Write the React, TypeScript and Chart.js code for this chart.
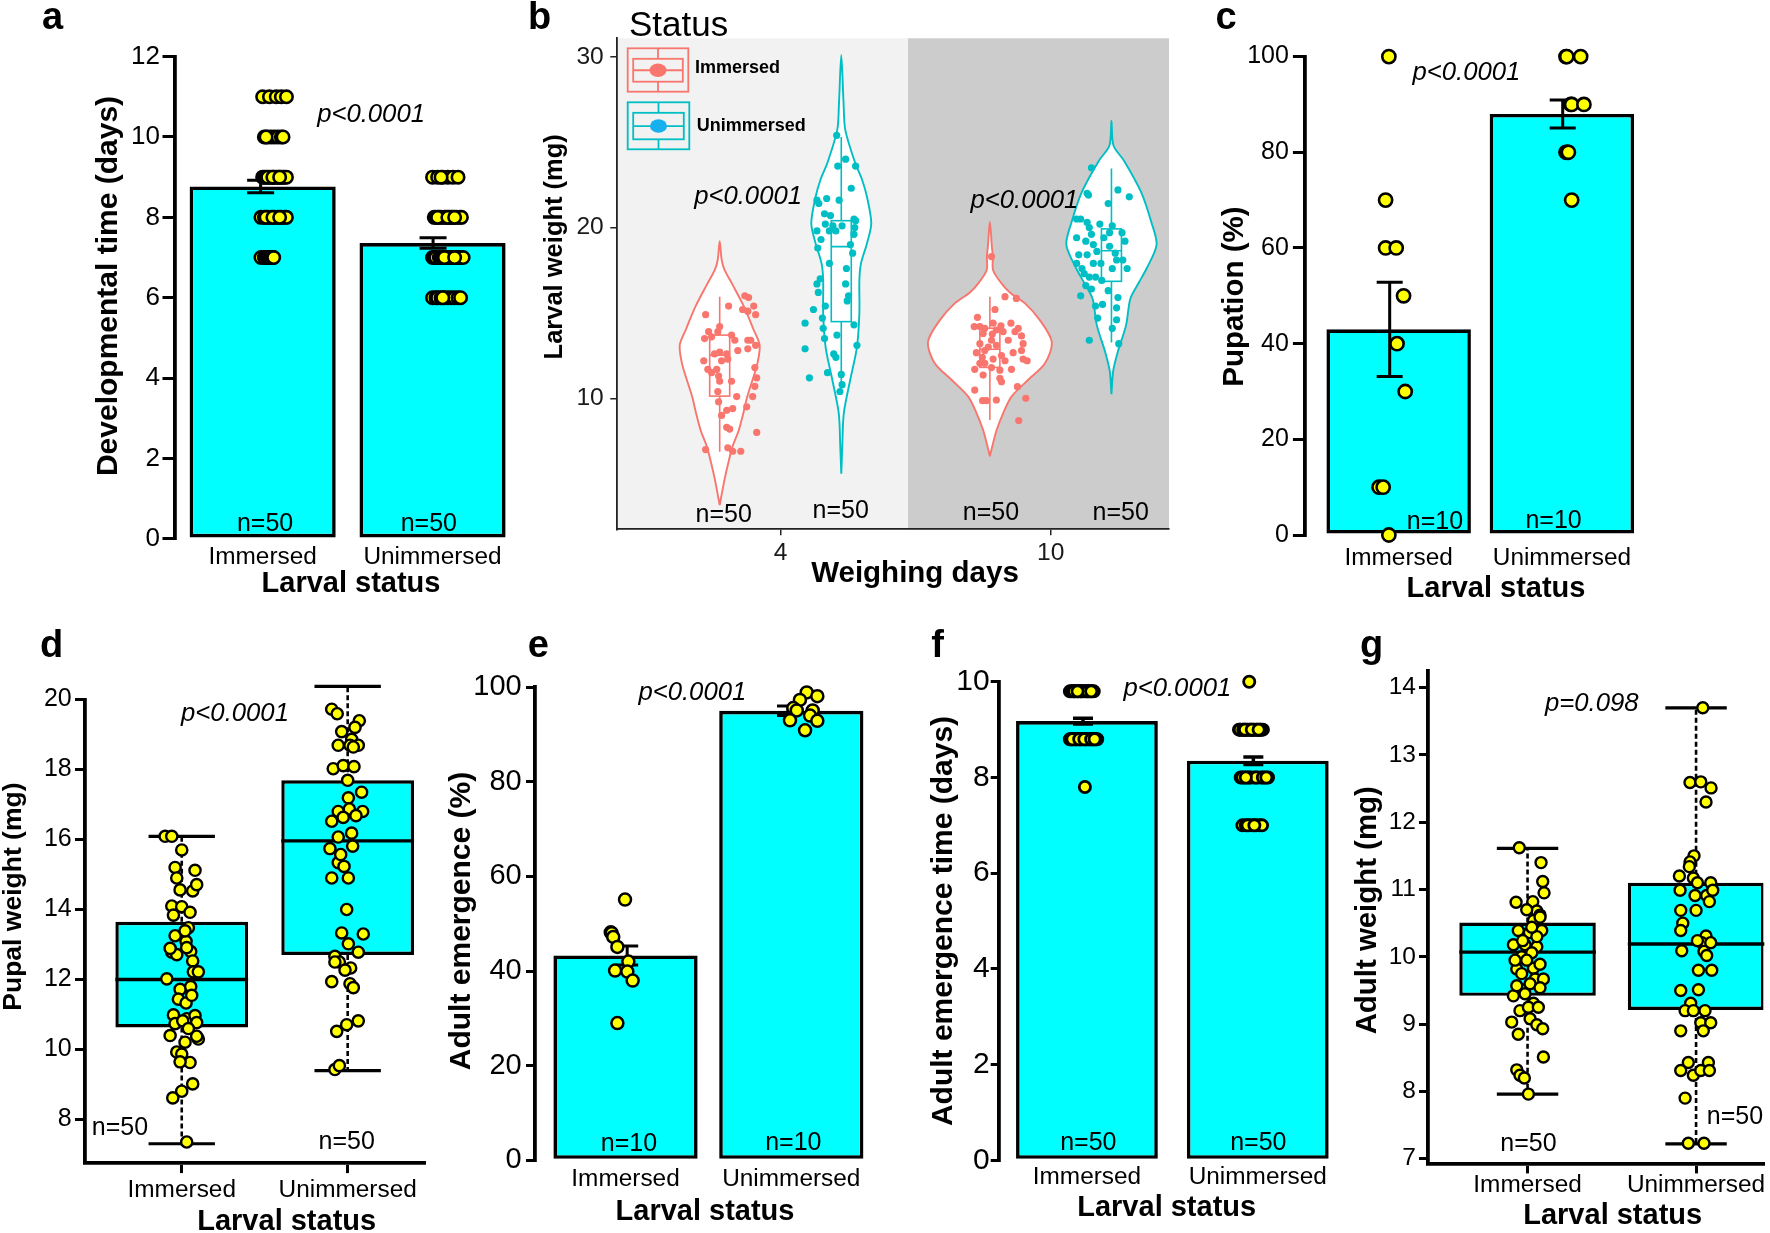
import React, { useEffect, useRef } from 'react';
import { Chart, registerables } from 'chart.js';

Chart.register(...registerables);

const PAGE_W = 1770;
const PAGE_H = 1233;
const Y_W = 80;
const X_H = 40;
const FF = '"Liberation Sans", Arial, Helvetica, sans-serif';
const fnt = (size: number, style = '') => `${style} ${size}px ${FF}`.trim();

const CYAN = '#00FFFF';
const YELLOW = '#FFFF00';
const BLACK = '#000000';
const SALMON = '#F8766D';
const TEAL = '#00BFC4';
const BLUE_DOT = '#17B0EE';

// ---------------- categories ----------------
const larvalStatus = ['Immersed', 'Unimmersed'];
const weighingDays = ['4', '10'];
const groupX = [0, 1];

// ---------------- a: developmental time ----------------
const devTicks = [0, 2, 4, 6, 8, 10, 12];
const devMean = [8.77, 7.36];
const devSem = [0.155, 0.13];
const devErrShift = [-0.012, 0.003];
const devImmersed = [11, 11, 11, 11, 11, 10, 10, 10, 10, 10, 10, 10, 10, 9, 9, 9, 9, 9, 9, 9, 9, 9, 9, 9, 9, 9, 9, 9, 9, 9, 8, 8, 8, 8, 8, 8, 8, 8, 8, 8, 8, 8, 7, 7, 7, 7, 7, 7, 7, 7];
const devImmersedJit = [0, 0.04, 0.08, 0.11, 0.14, 0.01, 0.03, 0.05, 0.07, 0.09, 0.11, 0.12, 0.02, 0, 0.01, 0.02, 0.04, 0.05, 0.06, 0.07, 0.08, 0.09, 0.1, 0.11, 0.12, 0.13, 0.14, 0.03, 0.06, 0.1, -0.01, 0.01, 0.03, 0.05, 0.07, 0.09, 0.11, 0.13, 0.14, 0.02, 0.06, 0.1, -0.01, 0.01, 0.02, 0.03, 0.04, 0.05, 0.06, 0.065];
const devUnimmersed = [9, 9, 9, 9, 9, 9, 9, 8, 8, 8, 8, 8, 8, 8, 8, 8, 8, 8, 8, 8, 8, 8, 7, 7, 7, 7, 7, 7, 7, 7, 7, 7, 7, 7, 7, 7, 7, 7, 7, 6, 6, 6, 6, 6, 6, 6, 6, 6, 6, 6];
const devUnimmersedJit = [0, 0.03, 0.06, 0.09, 0.12, 0.15, 0.05, 0.01, 0.02, 0.04, 0.05, 0.07, 0.08, 0.1, 0.11, 0.12, 0.14, 0.16, 0.17, 0.03, 0.09, 0.13, 0, 0.01, 0.02, 0.04, 0.05, 0.06, 0.08, 0.09, 0.1, 0.11, 0.12, 0.14, 0.15, 0.16, 0.18, 0.07, 0.13, 0, 0.02, 0.03, 0.05, 0.07, 0.09, 0.11, 0.13, 0.15, 0.165, 0.06];

// ---------------- b: larval weight (violins) ----------------
const larvTicks = [10, 20, 30];
const vioImm4Y = [3.75, 5.3, 6.2, 7.2, 8.1, 9.1, 10.1, 11.1, 12.0, 13.1, 14.0, 15.4, 16.7, 17.5, 18.1, 19.2];
const vioImm4W = [0, 0.0185, 0.0315, 0.048, 0.07, 0.087, 0.102, 0.122, 0.139, 0.148, 0.126, 0.089, 0.046, 0.0185, 0.0074, 0];
const vioUnimm4Y = [5.58, 7.17, 9.12, 11.07, 13.0, 14.98, 16.93, 17.9, 19.07, 20.25, 21.8, 22.8, 23.76, 25.7, 27.27, 30.1];
const vioUnimm4W = [0, 0.0037, 0.0093, 0.033, 0.058, 0.067, 0.067, 0.073, 0.095, 0.111, 0.095, 0.077, 0.052, 0.015, 0.0085, 0];
const vioImm10Y = [6.6, 7.17, 8.14, 9.12, 10.1, 11.07, 12.05, 13.3, 14.58, 15.56, 16.2, 16.73, 17.5, 18.3, 18.88, 20.34];
const vioImm10W = [0, 0.0085, 0.025, 0.049, 0.08, 0.141, 0.204, 0.229, 0.185, 0.13, 0.074, 0.043, 0.012, 0.011, 0.0074, 0];
const vioUnimm10Y = [10.24, 11.59, 12.7, 14.27, 15.84, 16.74, 17.6, 18.98, 20.3, 22.1, 23.9, 24.8, 26.26];
const vioUnimm10W = [0, 0.0063, 0.023, 0.054, 0.07, 0.1, 0.13, 0.167, 0.148, 0.109, 0.047, 0.0074, 0];
// lo, q1, median, q3, hi
const boxImm4 = [6.87, 10.13, 12.53, 13.7, 15.95];
const boxUnimm4 = [10.49, 14.49, 18.88, 20.4, 25.3];
const boxImm10 = [8.73, 11.81, 12.87, 14.1, 15.95];
const boxUnimm10 = [13.27, 16.85, 18.64, 19.92, 23.46];
const larvImm4 = [16.0, 15.9, 15.4, 15.4, 15.2, 15.1, 14.9, 14.9, 14.2, 13.9, 13.9, 13.7, 13.5, 13.4, 13.4, 13.4, 13.1, 12.8, 12.7, 12.6, 12.6, 12.2, 12.2, 12.3, 11.7, 11.7, 11.8, 11.3, 11.0, 11.0, 11.2, 10.1, 10.4, 10.1, 9.5, 9.3, 9.0, 9.4, 8.3, 8.2, 8.0, 7.0, 7.1, 6.9, 6.9, 11.5, 10.7, 12.9, 13.6, 9.8];
const larvImm4Jit = [0.093, 0.107, 0.033, 0.126, 0.085, 0.104, -0.052, 0.133, 0, -0.041, -0.007, 0.044, -0.056, 0.056, 0.115, 0.104, 0.133, 0.067, 0, 0.026, -0.019, -0.059, 0.007, 0.03, -0.044, -0.011, 0.13, -0.004, 0, 0.044, 0.137, 0.063, -0.007, 0.122, 0.1, 0.026, 0.007, 0.048, 0.026, 0.037, 0.137, -0.052, 0.03, 0.048, 0.078, -0.03, 0.13, 0.104, -0.03, -0.004];
const larvUnimm4 = [25.4, 23.6, 24.0, 23.6, 22.3, 21.6, 21.7, 21.6, 21.4, 20.8, 20.7, 20.2, 20.1, 20.1, 20.5, 20.4, 19.8, 19.8, 19.6, 18.8, 19.0, 18.5, 17.0, 16.7, 16.7, 16.2, 16.0, 15.7, 15.2, 14.3, 14.4, 14.7, 14.1, 13.5, 13.7, 13.1, 12.9, 12.6, 12.4, 11.4, 10.8, 10.4, 11.2, 19.3, 20.0, 19.8, 11.5, 17.9, 17.6, 15.4];
const larvUnimm4Jit = [-0.017, -0.013, 0.016, 0.053, 0.037, -0.09, -0.054, -0.008, -0.083, -0.062, -0.04, -0.059, -0.031, 0.003, 0.047, 0.053, -0.09, -0.044, 0.047, -0.087, 0.034, 0.042, -0.078, -0.09, 0.016, -0.085, 0.027, 0.022, -0.103, 0.047, -0.134, -0.07, -0.067, -0.062, -0.016, 0.058, -0.134, -0.028, -0.02, 0, 0.003, -0.005, -0.118, -0.075, 0.05, -0.02, -0.051, -0.044, 0.019, -0.059];
const larvImm10 = [18.3, 15.95, 15.85, 15.2, 14.74, 14.4, 14.4, 14.2, 14.2, 14.1, 14.25, 14.1, 13.8, 13.76, 13.9, 13.9, 13.65, 13.2, 13.0, 13.1, 13.2, 12.67, 12.4, 12.3, 12.5, 12.67, 12.3, 12.2, 11.7, 11.36, 11.8, 11.65, 12.05, 11.7, 11.17, 10.48, 9.86, 9.86, 9.9, 10.68, 10.0, 8.7, 12.2, 14.0, 12.05, 12.8, 12.8, 13.4, 10.97, 13.4];
const larvImm10Jit = [0.006, 0.056, 0.098, 0.019, -0.046, 0.012, 0.078, -0.058, -0.037, -0.019, 0.041, 0.105, -0.025, 0.009, 0.049, 0.093, 0.117, -0.037, -0.006, 0.024, 0.123, -0.05, -0.028, 0.012, 0.043, 0.086, 0.123, 0.138, -0.056, -0.025, 0.006, 0.037, -0.019, 0.08, 0.037, -0.056, -0.027, -0.013, 0.024, 0.102, 0.133, 0.107, 0.056, 0.024, -0.037, 0.117, -0.019, 0.068, 0.043, 0.006];
const larvUnimm10 = [23.5, 22.0, 21.9, 22.2, 21.8, 21.4, 20.5, 20.5, 20.3, 20.2, 19.6, 20.1, 19.7, 19.4, 19.2, 19.0, 18.4, 18.4, 18.6, 18.9, 18.5, 19.7, 19.2, 18.1, 18.1, 17.9, 17.9, 17.3, 17.1, 16.9, 16.6, 16.4, 16.0, 15.4, 15.5, 15.9, 15.3, 14.7, 14.6, 13.4, 13.2, 14.1, 17.6, 16.3, 19.4, 17.1, 17.6, 17.9, 20.0, 17.6];
const larvUnimm10Jit = [-0.074, -0.09, -0.085, 0.024, 0.066, -0.012, -0.129, -0.114, -0.09, -0.043, -0.074, 0.003, -0.007, -0.129, -0.095, -0.067, -0.121, -0.09, -0.054, -0.007, 0.014, 0.039, 0.05, 0.019, 0.042, -0.039, -0.067, -0.101, -0.082, -0.036, -0.095, -0.074, -0.114, -0.059, -0.033, 0.024, 0.019, -0.051, 0.019, -0.082, 0.027, 0.003, -0.109, -0.012, -0.028, -0.059, 0.058, -0.129, -0.082, 0.003];

// ---------------- c: pupation ----------------
const pupTicks = [0, 20, 40, 60, 80, 100];
const pupMean = [43, 88];
const pupSem = [9.85, 2.95];
const pupErrShift = [-0.055, 0.005];
const pupImmersed = [100, 70, 60, 60, 50, 40, 30, 10, 10, 0];
const pupImmersedJit = [-0.06, -0.08, -0.08, -0.015, 0.03, -0.01, 0.04, -0.12, -0.095, -0.06];
const pupUnimmersed = [100, 100, 100, 90, 90, 90, 80, 80, 80, 70];
const pupUnimmersedJit = [0.025, 0.03, 0.115, 0.055, 0.06, 0.135, 0.025, 0.035, 0.04, 0.06];

// ---------------- d: pupal weight (box) ----------------
const pupalTicks = [8, 10, 12, 14, 16, 18, 20];
const pupalBox = [
  [7.31, 10.63, 12.0, 13.65, 16.09],
  [9.4, 12.7, 15.96, 17.69, 20.37],
];
const pupalImmersed = [16.09, 16.09, 15.7, 15.2, 15.12, 14.9, 14.53, 14.71, 14.1, 14.08, 13.92, 13.84, 13.48, 13.25, 13.09, 12.78, 12.71, 12.8, 12.91, 12.53, 12.22, 12.02, 11.72, 11.8, 11.44, 11.33, 10.99, 10.88, 10.97, 10.74, 10.82, 10.77, 10.4, 10.21, 10.3, 9.93, 9.87, 9.63, 9.65, 9.02, 8.81, 8.62, 7.36, 10.38, 11.55, 13.39, 12.89, 12.22, 10.6, 14.56];
const pupalImmersedJit = [-0.1, -0.06, 0, -0.04, 0.08, -0.03, 0.066, 0.09, -0.06, 0, 0.05, -0.05, 0.04, -0.04, 0.026, -0.06, -0.03, 0.054, 0.03, 0.066, 0.07, -0.09, -0.01, 0.054, -0.02, 0.026, -0.05, 0.03, 0.08, -0.04, 0.006, 0.09, -0.07, 0.02, 0.1, -0.03, 0, 0.05, -0.01, 0.066, 0, -0.054, 0.03, 0.09, 0.06, 0.02, -0.07, 0.1, 0.04, -0.01];
const pupalUnimmersed = [20.39, 19.72, 19.59, 19.39, 19.2, 18.86, 18.69, 18.69, 18.69, 18.02, 18.11, 18.08, 17.69, 17.35, 17.19, 16.8, 16.87, 16.8, 16.52, 16.63, 16.18, 16.07, 15.74, 15.81, 15.34, 15.23, 14.9, 14.9, 14.0, 13.33, 13.3, 13.02, 12.78, 12.66, 12.5, 12.33, 11.94, 11.88, 11.77, 10.82, 10.52, 10.71, 9.43, 9.54, 18.64, 19.08, 12.5, 12.27, 15.57, 16.68];
const pupalUnimmersedJit = [-0.05, -0.096, -0.063, 0.07, 0.044, 0.024, -0.057, 0.014, 0.064, -0.087, -0.027, 0.038, 0, 0.084, 0.004, -0.057, 0.01, 0.09, -0.096, -0.027, 0.024, -0.057, -0.107, 0.03, -0.057, -0.022, -0.096, 0.004, -0.006, -0.036, 0.094, 0.004, 0.064, -0.077, -0.05, 0.018, -0.096, 0.014, 0.034, 0.064, -0.066, -0.006, -0.077, -0.05, 0.034, -0.036, -0.077, -0.016, -0.042, 0.05];

// ---------------- e: adult emergence ----------------
const emTicks = [0, 20, 40, 60, 80, 100];
const emMean = [43.3, 95.0];
const emSem = [2.0, 1.0];
const emErrShift = [0.01, -0.02];
const emImmersed = [55.1, 48.2, 48.0, 47.2, 45.1, 42.0, 40.1, 39.9, 38.0, 29.0];
const emImmersedJit = [-0.003, -0.089, -0.083, -0.074, -0.049, 0.017, -0.063, 0.011, 0.043, -0.049];
const emUnimmersed = [98.9, 98.1, 97.3, 95.6, 95.1, 95.1, 94.0, 93.0, 92.9, 90.9];
const emUnimmersedJit = [0.093, 0.157, 0.052, 0.012, 0.033, 0.129, 0.113, -0.008, 0.157, 0.083];

// ---------------- f: adult emergence time ----------------
const atTicks = [0, 2, 4, 6, 8, 10];
const atMean = [9.18, 8.35];
const atSem = [0.06, 0.08];
const atErrShift = [-0.023, -0.026];
const atImmersed = [9.8, 9.8, 9.8, 9.8, 9.8, 9.8, 9.8, 9.8, 9.8, 9.8, 9.8, 9.8, 9.8, 9.8, 9.8, 9.8, 9.8, 9.8, 9.8, 9.8, 8.8, 8.8, 8.8, 8.8, 8.8, 8.8, 8.8, 8.8, 8.8, 8.8, 8.8, 8.8, 8.8, 8.8, 8.8, 8.8, 8.8, 8.8, 8.8, 8.8, 8.8, 8.8, 8.8, 8.8, 8.8, 8.8, 8.8, 8.8, 8.8, 7.8];
const atImmersedJit = [-0.1, -0.09, -0.08, -0.07, -0.06, -0.05, -0.04, -0.03, -0.02, -0.01, 0, 0.01, 0.02, 0.03, 0.04, -0.075, -0.035, 0.005, 0.025, -0.055, -0.1, -0.09, -0.08, -0.07, -0.06, -0.05, -0.04, -0.03, -0.02, -0.01, 0, 0.01, 0.02, 0.03, 0.04, 0.05, 0.06, -0.095, -0.065, -0.035, -0.005, 0.015, 0.035, 0.055, -0.085, -0.045, -0.015, 0.025, 0.045, -0.012];
const atUnimmersed = [10, 9, 9, 9, 9, 9, 9, 9, 9, 9, 9, 9, 9, 9, 9, 9, 9, 9, 9, 9, 9, 9, 9, 9, 9, 9, 8, 8, 8, 8, 8, 8, 8, 8, 8, 8, 8, 8, 8, 8, 8, 7, 7, 7, 7, 7, 7, 7, 7, 7];
const atUnimmersedJit = [-0.05, -0.11, -0.1, -0.09, -0.08, -0.07, -0.06, -0.05, -0.04, -0.03, -0.02, -0.01, 0, 0.01, 0.02, 0.03, -0.105, -0.085, -0.065, -0.045, -0.025, -0.005, 0.015, -0.075, -0.035, 0.005, -0.1, -0.08, -0.06, -0.04, -0.02, 0, 0.02, 0.04, 0.06, -0.09, -0.05, -0.01, 0.03, -0.07, 0.05, -0.09, -0.07, -0.05, -0.03, -0.01, 0.01, 0.025, -0.06, -0.02];

// ---------------- g: adult weight (box) ----------------
const awTicks = [7, 8, 9, 10, 11, 12, 13, 14];
const awBox = [
  [7.96, 9.42, 10.07, 10.51, 11.61],
  [7.22, 9.21, 10.19, 11.1, 13.7],
];
const awImmersed = [11.62, 11.4, 11.12, 10.95, 10.81, 10.82, 10.68, 10.62, 10.54, 10.39, 10.36, 10.39, 10.18, 10.18, 10.15, 10.0, 10.06, 9.82, 9.83, 9.67, 9.67, 9.51, 9.42, 9.45, 9.31, 9.03, 9.08, 8.99, 8.93, 8.51, 8.32, 8.24, 8.2, 7.96, 9.89, 9.95, 10.24, 10.3, 9.95, 9.6, 10.59, 9.2, 9.25, 9.25, 10.44, 8.85, 10.7, 9.75, 9.54, 9.57];
const awImmersedJit = [-0.049, 0.08, 0.09, 0.098, -0.068, 0.031, 0.055, 0.074, 0.035, -0.055, 0.011, 0.084, -0.084, -0.015, 0.055, -0.035, 0.025, -0.064, 0.035, 0.045, 0.094, -0.035, -0.084, -0.015, 0.035, -0.094, 0.015, 0.055, 0.09, 0.094, -0.064, -0.045, -0.019, 0.005, 0.074, -0.005, -0.029, 0.055, -0.074, 0.015, 0.074, -0.045, 0.005, 0.064, 0.025, -0.055, -0.005, -0.035, 0.074, -0.064];
const awUnimmersed = [14.39, 13.7, 12.59, 12.6, 12.51, 12.3, 11.5, 11.41, 11.2, 11.17, 11.1, 11.1, 10.99, 10.91, 10.91, 10.99, 10.69, 10.69, 10.82, 10.5, 10.39, 10.31, 10.21, 10.21, 10.09, 10.08, 10.02, 9.8, 9.8, 9.5, 9.51, 9.31, 9.2, 9.2, 9.2, 9.02, 9.02, 8.9, 8.9, 8.43, 8.43, 8.31, 8.24, 8.31, 8.31, 7.9, 7.23, 7.23, 11.34, 10.24];
const awUnimmersedJit = [0.008, 0.04, -0.036, 0.028, 0.089, 0.059, -0.012, -0.036, -0.099, -0.016, 0.008, 0.087, -0.095, -0.006, 0.063, 0.099, -0.091, 0, 0.079, -0.079, -0.091, 0.059, 0.034, 0.087, -0.085, 0.047, 0.063, 0.014, 0.093, -0.091, 0.014, -0.032, -0.065, -0.016, 0.053, 0.028, 0.087, 0.043, -0.091, -0.046, 0.073, -0.091, -0.016, 0.028, 0.079, -0.065, -0.046, 0.047, -0.04, 0.008];

// ---------------- helpers ----------------
const baseOptions = {
  responsive: false,
  maintainAspectRatio: false,
  animation: false,
  devicePixelRatio: 1,
  events: [],
};
const noLegend = { legend: { display: false }, tooltip: { enabled: false } };

function layoutFor(fr: any) {
  return {
    autoPadding: false,
    padding: { left: fr.l - Y_W, top: fr.t, right: PAGE_W - fr.r, bottom: PAGE_H - fr.b - X_H },
  };
}

function axisX(o: any) {
  return {
    type: 'linear',
    position: 'bottom',
    min: o.min,
    max: o.max,
    offset: false,
    beginAtZero: false,
    afterBuildTicks: (sc: any) => {
      sc.ticks = o.ticks.map((v: number) => ({ value: v }));
    },
    afterFit: (sc: any) => {
      sc.height = X_H;
    },
    ticks: {
      autoSkip: false,
      maxRotation: 0,
      minRotation: 0,
      padding: o.pad,
      color: o.color || BLACK,
      font: { family: FF, size: o.font },
      callback: (v: any, i: number) => (o.labels ? o.labels[i] : String(v)),
    },
    grid: {
      display: o.tickLen > 0,
      offset: false,
      drawOnChartArea: false,
      drawTicks: true,
      tickLength: o.tickLen,
      lineWidth: o.tickW || 1,
      color: o.lineColor || BLACK,
    },
    border: { display: (o.borderW || 0) > 0, width: o.borderW || 1, color: o.lineColor || BLACK },
  };
}

function axisY(o: any) {
  return {
    type: 'linear',
    position: 'left',
    min: o.min,
    max: o.max,
    offset: false,
    beginAtZero: false,
    afterBuildTicks: (sc: any) => {
      sc.ticks = o.ticks.map((v: number) => ({ value: v }));
    },
    afterFit: (sc: any) => {
      sc.width = Y_W;
    },
    ticks: {
      autoSkip: false,
      padding: o.pad,
      color: o.color || BLACK,
      font: { family: FF, size: o.font },
      callback: (v: any) => String(v),
    },
    grid: {
      display: true,
      offset: false,
      drawOnChartArea: false,
      drawTicks: true,
      tickLength: o.tickLen,
      lineWidth: o.tickW,
      color: o.lineColor || BLACK,
    },
    border: { display: true, width: o.borderW, color: o.lineColor || BLACK },
  };
}

function textPlugin(items: any[]) {
  return {
    id: 'panelText',
    afterDraw(chart: any) {
      const { ctx } = chart;
      const sx = chart.scales.x;
      const sy = chart.scales.y;
      items.forEach((it) => {
        const px = it.data ? sx.getPixelForValue(it.x) : it.x;
        const py = it.data ? sy.getPixelForValue(it.y) : it.y;
        ctx.save();
        ctx.translate(px, py);
        if (it.rot) ctx.rotate((it.rot * Math.PI) / 180);
        ctx.font = it.f;
        ctx.fillStyle = it.c || BLACK;
        ctx.textAlign = it.align || 'center';
        ctx.textBaseline = it.base || 'middle';
        ctx.fillText(it.t, 0, 0);
        ctx.restore();
      });
    },
  };
}

function errorBarPlugin(means: number[], sems: number[], shift: number[], capW: number, lw: number) {
  return {
    id: 'errorBars',
    afterDatasetDraw(chart: any, args: any) {
      if (args.index !== 0) return;
      const { ctx } = chart;
      const sx = chart.scales.x;
      const sy = chart.scales.y;
      ctx.save();
      ctx.strokeStyle = BLACK;
      ctx.lineWidth = lw;
      means.forEach((m, i) => {
        const cx = sx.getPixelForValue(groupX[i] + shift[i]);
        const yt = sy.getPixelForValue(m + sems[i]);
        const yb = sy.getPixelForValue(m - sems[i]);
        ctx.beginPath();
        ctx.moveTo(cx, yt);
        ctx.lineTo(cx, yb);
        ctx.moveTo(cx - capW / 2, yt);
        ctx.lineTo(cx + capW / 2, yt);
        ctx.moveTo(cx - capW / 2, yb);
        ctx.lineTo(cx + capW / 2, yb);
        ctx.stroke();
      });
      ctx.restore();
    },
  };
}

function boxWhiskerPlugin(stats: number[][], o: any) {
  return {
    id: 'boxWhisker',
    afterDatasetDraw(chart: any, args: any) {
      if (args.index !== 0) return;
      const { ctx } = chart;
      const sx = chart.scales.x;
      const sy = chart.scales.y;
      args.meta.data.forEach((el: any, i: number) => {
        const [lo, q1, med, q3, hi] = stats[i];
        const cx = sx.getPixelForValue(groupX[i]);
        const half = el.width / 2;
        const cap = half * o.capFrac;
        ctx.save();
        ctx.strokeStyle = BLACK;
        ctx.lineWidth = o.medW;
        ctx.beginPath();
        ctx.moveTo(cx - half, sy.getPixelForValue(med));
        ctx.lineTo(cx + half, sy.getPixelForValue(med));
        ctx.stroke();
        ctx.lineWidth = o.whW;
        ctx.setLineDash(o.dash);
        ctx.beginPath();
        ctx.moveTo(cx, sy.getPixelForValue(q3));
        ctx.lineTo(cx, sy.getPixelForValue(hi));
        ctx.moveTo(cx, sy.getPixelForValue(q1));
        ctx.lineTo(cx, sy.getPixelForValue(lo));
        ctx.stroke();
        ctx.setLineDash([]);
        ctx.lineWidth = o.capW;
        ctx.beginPath();
        ctx.moveTo(cx - cap, sy.getPixelForValue(hi));
        ctx.lineTo(cx + cap, sy.getPixelForValue(hi));
        ctx.moveTo(cx - cap, sy.getPixelForValue(lo));
        ctx.lineTo(cx + cap, sy.getPixelForValue(lo));
        ctx.stroke();
        ctx.restore();
      });
    },
  };
}

function pointSets(points: number[][], jitter: number[][], centers: number[], style: any) {
  return points.map((vals, g) => ({
    type: 'scatter',
    data: vals.map((v, i) => ({ x: centers[g] + jitter[g][i], y: v })),
    pointRadius: style.r,
    pointBorderWidth: style.bw,
    pointBackgroundColor: style.fill || YELLOW,
    pointBorderColor: style.stroke || BLACK,
    clip: false,
    order: 0,
  }));
}

function barPanel(p: any) {
  const datasets: any[] = [
    {
      type: 'bar',
      data: p.means.map((m: number, i: number) => ({ x: groupX[i], y: m })),
      backgroundColor: CYAN,
      borderColor: BLACK,
      borderWidth: p.barBorder,
      borderSkipped: false,
      categoryPercentage: 1,
      barPercentage: p.barPct,
      order: 1,
    },
    ...pointSets(p.points, p.jitter, groupX, { r: p.r, bw: p.bw }),
  ];
  return {
    type: 'scatter',
    data: { datasets },
    options: {
      ...baseOptions,
      layout: layoutFor(p.frame),
      scales: { x: axisX(p.x), y: axisY(p.y) },
      plugins: noLegend,
    },
    plugins: [errorBarPlugin(p.means, p.sems, p.errShift, p.capW, p.errLW), textPlugin(p.texts)],
  };
}

function boxPanel(p: any) {
  const datasets: any[] = [
    {
      type: 'bar',
      data: p.stats.map((s: number[], i: number) => ({ x: groupX[i], y: [s[1], s[3]] })),
      backgroundColor: CYAN,
      borderColor: BLACK,
      borderWidth: p.boxBorder,
      borderSkipped: false,
      categoryPercentage: 1,
      barPercentage: p.barPct,
      order: 1,
    },
    ...pointSets(p.points, p.jitter, groupX, { r: p.r, bw: p.bw }),
  ];
  return {
    type: 'scatter',
    data: { datasets },
    options: {
      ...baseOptions,
      layout: layoutFor(p.frame),
      scales: { x: axisX(p.x), y: axisY(p.y) },
      plugins: noLegend,
    },
    plugins: [boxWhiskerPlugin(p.stats, p.whisker), textPlugin(p.texts)],
  };
}

// ---------------- panel configs ----------------
const yLab = (t: string, x: number, y: number, s: number) => ({ t, x, y, f: fnt(s, 'bold'), rot: -90 });
const xLab = (t: string, x: number, y: number) => ({ t, x, y, f: fnt(29, 'bold') });
const letter = (t: string, x: number, y: number) => ({ t, x, y, f: fnt(38, 'bold'), base: 'alphabetic' });
const pLab = (t: string, x: number, y: number) => ({ t, x, y, f: fnt(25.7, 'italic'), data: true });
const nLab = (t: string, x: number, y: number) => ({ t, x, y, f: fnt(25), data: true });

const configA = () =>
  barPanel({
    frame: { l: 175, t: 56.6, r: 517.5, b: 538.9 },
    means: devMean,
    sems: devSem,
    errShift: devErrShift,
    capW: 27,
    errLW: 3,
    barPct: 0.86,
    barBorder: 3.6,
    points: [devImmersed, devUnimmersed],
    jitter: [devImmersedJit, devUnimmersedJit],
    r: 6.2,
    bw: 2.6,
    x: { min: -0.516, max: 1.5, ticks: groupX, labels: larvalStatus, font: 24.4, pad: 3.3, tickLen: 0, borderW: 0 },
    y: { min: 0, max: 12, ticks: devTicks, font: 26, pad: 2.5, tickLen: 12.5, tickW: 3, borderW: 3.8 },
    texts: [
      letter('a', 52.5, 28.7),
      yLab('Developmental time (days)', 108.5, 286, 30),
      xLab('Larval status', 351, 583.6),
      pLab('p<0.0001', 0.638, 10.55),
      nLab('n=50', 0.014, 0.37),
      nLab('n=50', 0.978, 0.37),
    ],
  });

const configC = () =>
  barPanel({
    frame: { l: 1305.3, t: 56.6, r: 1643.5, b: 535 },
    means: pupMean,
    sems: pupSem,
    errShift: pupErrShift,
    capW: 26,
    errLW: 3,
    barPct: 0.885,
    barBorder: 3.6,
    points: [pupImmersed, pupUnimmersed],
    jitter: [pupImmersedJit, pupUnimmersedJit],
    r: 6.6,
    bw: 2.6,
    x: { min: -0.572, max: 1.5, ticks: groupX, labels: larvalStatus, font: 24.4, pad: 9, tickLen: 0, borderW: 0 },
    y: { min: 0, max: 100, ticks: pupTicks, font: 25, pad: 4, tickLen: 12.4, tickW: 3, borderW: 3.8 },
    texts: [
      letter('c', 1226, 28.7),
      yLab('Pupation (%)', 1234.5, 296.6, 29.5),
      xLab('Larval status', 1496, 589.4),
      pLab('p<0.0001', 0.415, 96.6),
      nLab('n=10', 0.222, 2.6),
      nLab('n=10', 0.949, 2.9),
    ],
  });

const configE = () =>
  barPanel({
    frame: { l: 535, t: 687.2, r: 874.2, b: 1160.3 },
    means: emMean,
    sems: emSem,
    errShift: emErrShift,
    capW: 22,
    errLW: 3,
    barPct: 0.87,
    barBorder: 3.6,
    points: [emImmersed, emUnimmersed],
    jitter: [emImmersedJit, emUnimmersedJit],
    r: 6,
    bw: 2.5,
    x: { min: -0.546, max: 1.5, ticks: groupX, labels: larvalStatus, font: 24.4, pad: 4, tickLen: 0, borderW: 0 },
    y: { min: 0, max: 100, ticks: emTicks, font: 29, pad: 4.3, tickLen: 9, tickW: 3, borderW: 3.8 },
    texts: [
      letter('e', 538.3, 657.1),
      yLab('Adult emergence (%)', 461.7, 921, 30),
      xLab('Larval status', 705, 1212.3),
      pLab('p<0.0001', 0.403, 98.9),
      nLab('n=10', 0.021, 3.47),
      nLab('n=10', 1.012, 3.72),
    ],
  });

const configF = () =>
  barPanel({
    frame: { l: 999.3, t: 681.8, r: 1343.2, b: 1160.3 },
    means: atMean,
    sems: atSem,
    errShift: atErrShift,
    capW: 20,
    errLW: 3.5,
    barPct: 0.83,
    barBorder: 3.6,
    points: [atImmersed, atUnimmersed],
    jitter: [atImmersedJit, atUnimmersedJit],
    r: 5.6,
    bw: 2.8,
    x: { min: -0.513, max: 1.5, ticks: groupX, labels: larvalStatus, font: 24.4, pad: 2, tickLen: 0, borderW: 0 },
    y: { min: 0, max: 10, ticks: atTicks, font: 30, pad: 1, tickLen: 8.6, tickW: 3, borderW: 3.8 },
    texts: [
      letter('f', 937.5, 657.1),
      yLab('Adult emergence time (days)', 943.3, 921, 30),
      xLab('Larval status', 1166.7, 1208.4),
      pLab('p<0.0001', 0.529, 9.86),
      nLab('n=50', 0.008, 0.36),
      nLab('n=50', 1.003, 0.36),
    ],
  });

const configD = () =>
  boxPanel({
    frame: { l: 85, t: 699.4, r: 424, b: 1162.6 },
    stats: pupalBox,
    barPct: 0.8,
    boxBorder: 3.4,
    whisker: { medW: 3.4, whW: 2.6, capW: 3.2, capFrac: 0.5, dash: [5, 3] },
    points: [pupalImmersed, pupalUnimmersed],
    jitter: [pupalImmersedJit, pupalUnimmersedJit],
    r: 5.6,
    bw: 2.4,
    x: { min: -0.583, max: 1.46, ticks: groupX, labels: larvalStatus, font: 24.4, pad: 3, tickLen: 10.5, tickW: 3, borderW: 3.8 },
    y: { min: 6.772, max: 20, ticks: pupalTicks, font: 25, pad: 3.3, tickLen: 10, tickW: 3, borderW: 3.8 },
    texts: [
      letter('d', 51.7, 657.1),
      yLab('Pupal weight (mg)', 13.3, 896.6, 26.5),
      xLab('Larval status', 286.7, 1222),
      pLab('p<0.0001', 0.321, 19.59),
      nLab('n=50', -0.372, 7.75),
      nLab('n=50', 0.994, 7.36),
    ],
  });

const configG = () =>
  boxPanel({
    frame: { l: 1428.3, t: 670.8, r: 1763.3, b: 1163.4 },
    stats: awBox,
    barPct: 0.81,
    boxBorder: 3.4,
    whisker: { medW: 3.4, whW: 2.6, capW: 3.2, capFrac: 0.45, dash: [5, 3] },
    points: [awImmersed, awUnimmersed],
    jitter: [awImmersedJit, awUnimmersedJit],
    r: 5.5,
    bw: 2.4,
    x: { min: -0.589, max: 1.399, ticks: groupX, labels: larvalStatus, font: 24.4, pad: -3, tickLen: 10, tickW: 3, borderW: 3.8 },
    y: { min: 6.93, max: 14.25, ticks: awTicks, font: 24.5, pad: 3, tickLen: 9.3, tickW: 3, borderW: 3.8 },
    texts: [
      letter('g', 1371.7, 657.1),
      yLab('Adult weight (mg)', 1368.3, 910.3, 29.4),
      xLab('Larval status', 1612.7, 1216.2),
      pLab('p=0.098', 0.381, 13.76),
      nLab('n=50', 0.005, 7.22),
      nLab('n=50', 1.231, 7.62),
    ],
  });

// ---------------- panel b (violins) ----------------
const DODGE = 0.225;

function violinOutline(center: number, ys: number[], ws: number[]) {
  const right = ys.map((y, i) => ({ x: center + ws[i], y }));
  const left = ys
    .slice(0, -1)
    .map((y, i) => ({ x: center - ws[i], y }))
    .reverse();
  return [...right, ...left];
}

function violinPlugin(o: any) {
  return {
    id: 'violinExtras',
    beforeDraw(chart: any) {
      const { ctx, chartArea: a } = chart;
      const xs = chart.scales.x.getPixelForValue(o.split);
      ctx.save();
      ctx.fillStyle = o.bgLeft;
      ctx.fillRect(a.left, a.top, xs - a.left, a.bottom - a.top);
      ctx.fillStyle = o.bgRight;
      ctx.fillRect(xs, a.top, a.right - xs, a.bottom - a.top);
      ctx.restore();
    },
    afterDatasetDraw(chart: any, args: any) {
      const ds = chart.data.datasets[args.index];
      if (!ds.boxStats) return;
      const { ctx } = chart;
      const sx = chart.scales.x;
      const sy = chart.scales.y;
      const [lo, q1, med, q3, hi] = ds.boxStats;
      const cx = sx.getPixelForValue(ds.boxCenter);
      const h = o.boxHalf;
      const y = (v: number) => sy.getPixelForValue(v);
      ctx.save();
      ctx.strokeStyle = ds.borderColor;
      ctx.lineWidth = o.lw;
      ctx.strokeRect(cx - h, y(q3), 2 * h, y(q1) - y(q3));
      ctx.beginPath();
      ctx.moveTo(cx - h, y(med));
      ctx.lineTo(cx + h, y(med));
      ctx.moveTo(cx, y(q3));
      ctx.lineTo(cx, y(hi));
      ctx.moveTo(cx, y(q1));
      ctx.lineTo(cx, y(lo));
      ctx.stroke();
      ctx.restore();
    },
    afterDraw(chart: any) {
      const { ctx } = chart;
      o.keys.forEach((k: any) => {
        ctx.save();
        ctx.strokeStyle = k.color;
        ctx.lineWidth = 1.8;
        ctx.strokeRect(k.x, k.y, k.w, k.h);
        const ix = k.x + 5.5;
        const iw = k.w - 11;
        const iy = k.y + 10.5;
        const ih = k.h - 20.5;
        const cx = k.x + k.w / 2;
        const cy = iy + ih / 2;
        ctx.strokeRect(ix, iy, iw, ih);
        ctx.beginPath();
        ctx.moveTo(cx, k.y);
        ctx.lineTo(cx, iy);
        ctx.moveTo(cx, iy + ih);
        ctx.lineTo(cx, k.y + k.h);
        ctx.moveTo(ix, cy);
        ctx.lineTo(ix + iw, cy);
        ctx.stroke();
        ctx.fillStyle = k.dot;
        ctx.beginPath();
        ctx.ellipse(cx, cy, 8.5, 6.8, 0, 0, Math.PI * 2);
        ctx.fill();
        ctx.restore();
      });
    },
  };
}

const configB = () => {
  const groups = [
    { c: groupX[0] - DODGE, ys: vioImm4Y, ws: vioImm4W, color: SALMON, box: boxImm4, pts: larvImm4, jit: larvImm4Jit },
    { c: groupX[0] + DODGE, ys: vioUnimm4Y, ws: vioUnimm4W, color: TEAL, box: boxUnimm4, pts: larvUnimm4, jit: larvUnimm4Jit },
    { c: groupX[1] - DODGE, ys: vioImm10Y, ws: vioImm10W, color: SALMON, box: boxImm10, pts: larvImm10, jit: larvImm10Jit },
    { c: groupX[1] + DODGE, ys: vioUnimm10Y, ws: vioUnimm10W, color: TEAL, box: boxUnimm10, pts: larvUnimm10, jit: larvUnimm10Jit },
  ];
  const violins = groups.map((g) => ({
    type: 'line',
    data: violinOutline(g.c, g.ys, g.ws),
    showLine: true,
    borderColor: g.color,
    borderWidth: 1.9,
    backgroundColor: '#FFFFFF',
    fill: 'shape',
    pointRadius: 0,
    tension: 0.3,
    clip: false,
    order: 2,
    boxStats: g.box,
    boxCenter: g.c,
  }));
  const pts = groups.map((g) => ({
    type: 'scatter',
    data: g.pts.map((v, i) => ({ x: g.c + g.jit[i], y: v })),
    pointRadius: 3.6,
    pointBorderWidth: 0,
    pointBackgroundColor: g.color,
    pointBorderColor: g.color,
    clip: false,
    order: 0,
  }));
  return {
    type: 'scatter',
    data: { datasets: [...violins, ...pts] },
    options: {
      ...baseOptions,
      layout: layoutFor({ l: 617.3, t: 38.3, r: 1169, b: 529.3 }),
      scales: {
        x: axisX({ min: -0.604, max: 1.438, ticks: groupX, labels: weighingDays, font: 24.6, pad: 3, tickLen: 6, tickW: 1.5, borderW: 1.8, color: '#1a1a1a', lineColor: '#222222' }),
        y: axisY({ min: 2.33, max: 31.08, ticks: larvTicks, font: 24.6, pad: 6.5, tickLen: 7, tickW: 1.5, borderW: 1.8, color: '#1a1a1a', lineColor: '#222222' }),
      },
      plugins: noLegend,
    },
    plugins: [
      violinPlugin({
        split: 0.472,
        bgLeft: '#F2F2F2',
        bgRight: '#CCCCCC',
        boxHalf: 10,
        lw: 1.6,
        keys: [
          { x: 627.7, y: 48.3, w: 60.6, h: 43.4, color: SALMON, dot: SALMON },
          { x: 627.7, y: 102.3, w: 61.6, h: 47, color: TEAL, dot: BLUE_DOT },
        ],
      }),
      textPlugin([
        { t: 'b', x: 539.5, y: 28.7, f: fnt(38, 'bold'), base: 'alphabetic' },
        { t: 'Status', x: 629, y: 36.4, f: fnt(35), base: 'alphabetic', align: 'left' },
        { t: 'Immersed', x: 695, y: 68, f: fnt(18, 'bold'), align: 'left' },
        { t: 'Unimmersed', x: 696.7, y: 125.7, f: fnt(18, 'bold'), align: 'left' },
        { t: 'Larval weight (mg)', x: 555, y: 246.8, f: fnt(25.5, 'bold'), rot: -90 },
        { t: 'Weighing days', x: 915, y: 574, f: fnt(29.5, 'bold') },
        pLab('p<0.0001', -0.12, 21.8),
        pLab('p<0.0001', 0.903, 21.55),
        nLab('n=50', -0.21, 3.18),
        nLab('n=50', 0.223, 3.4),
        nLab('n=50', 0.779, 3.3),
        nLab('n=50', 1.259, 3.3),
      ]),
    ],
  };
};

// ---------------- components ----------------
function ChartLayer({ make }: { make: () => any }) {
  const ref = useRef<HTMLCanvasElement | null>(null);
  useEffect(() => {
    if (!ref.current) return;
    const chart = new Chart(ref.current, make());
    return () => chart.destroy();
  }, [make]);
  return (
    <canvas
      ref={ref}
      width={PAGE_W}
      height={PAGE_H}
      style={{ position: 'absolute', left: 0, top: 0, width: PAGE_W, height: PAGE_H }}
    />
  );
}

const makers = [configA, configB, configC, configD, configE, configF, configG];

export default function App() {
  return (
    <div
      style={{
        position: 'absolute',
        left: 0,
        top: 0,
        width: PAGE_W,
        height: PAGE_H,
        background: '#FFFFFF',
        overflow: 'hidden',
      }}
    >
      {makers.map((m, i) => (
        <ChartLayer key={i} make={m} />
      ))}
    </div>
  );
}
